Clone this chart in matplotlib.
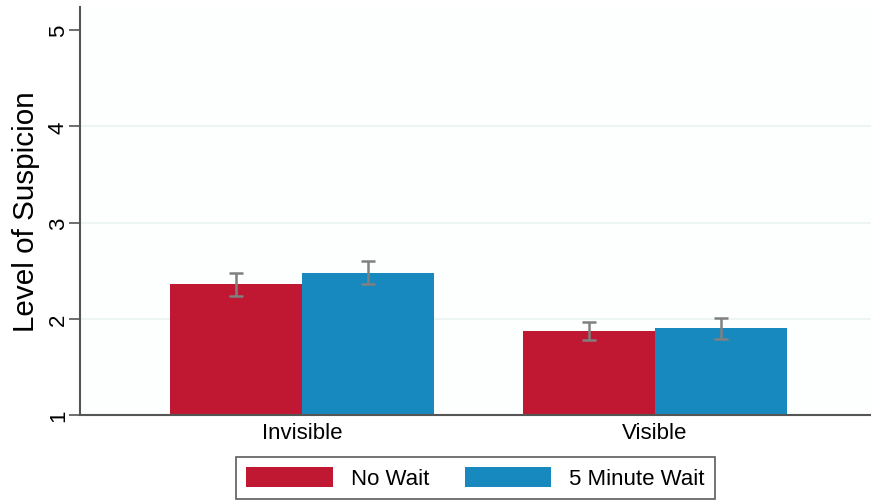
import matplotlib
matplotlib.use("Agg")
import matplotlib.pyplot as plt
import numpy as np

plt.rcParams['font.family'] = ['Liberation Sans', 'DejaVu Sans']

categories = ["Invisible", "Visible"]
series_names = ["No Wait", "5 Minute Wait"]
no_wait = [2.36, 1.87]
no_wait_err = [0.12, 0.095]
five_min = [2.48, 1.90]
five_min_err = [0.12, 0.105]
yticks = [1, 2, 3, 4, 5]

red = "#c01733"
blue = "#1889be"

fig = plt.figure(figsize=(8.71, 5.02), dpi=100)
ax = fig.add_axes([80/871, 1-416/502, 1-80/871, (416-8)/502])
ax.set_facecolor("#fdfefe")

x = np.arange(len(categories))
w = 0.374
ax.bar(x - w/2, no_wait, w, bottom=0, color=red, label=series_names[0], zorder=2)
ax.bar(x + w/2, five_min, w, bottom=0, color=blue, label=series_names[1], zorder=2)
ax.errorbar(x - w/2, no_wait, yerr=no_wait_err, fmt='none', ecolor='#808080',
            elinewidth=1.8, capsize=5, capthick=1.8, zorder=3)
ax.errorbar(x + w/2, five_min, yerr=five_min_err, fmt='none', ecolor='#808080',
            elinewidth=1.8, capsize=5, capthick=1.8, zorder=3)

ax.set_ylim(1, 5.24)
ax.set_xlim(-0.629, 1.612)
ax.set_yticks(yticks)
ax.set_yticklabels([str(t) for t in yticks], rotation=90, va='center', fontsize=16)
for t in [2, 3, 4]:
    ax.axhline(t, color='#eaf2f3', lw=1.2, zorder=1)
ax.set_xticks(x)
ax.set_xticklabels(categories, fontsize=16)
ax.tick_params(axis='x', length=0, pad=5)
ax.tick_params(axis='y', length=8, width=1.2, color='#555555', pad=0)
ax.set_ylabel("Level of Suspicion", fontsize=21.3, labelpad=6)

for s in ['top', 'right']:
    ax.spines[s].set_visible(False)
for s in ['left', 'bottom']:
    ax.spines[s].set_color('#555555')
    ax.spines[s].set_linewidth(1.5)

leg = fig.legend(loc='center', bbox_to_anchor=(475.5/871, 1-479/502), ncol=2,
                 fontsize=16, frameon=True, fancybox=False, edgecolor='#333333',
                 handlelength=3.9, handleheight=1.0, columnspacing=1.6,
                 handletextpad=0.8, borderpad=0.45, borderaxespad=0)
leg.get_frame().set_linewidth(1.2)

fig.savefig("out.png", dpi=100)
